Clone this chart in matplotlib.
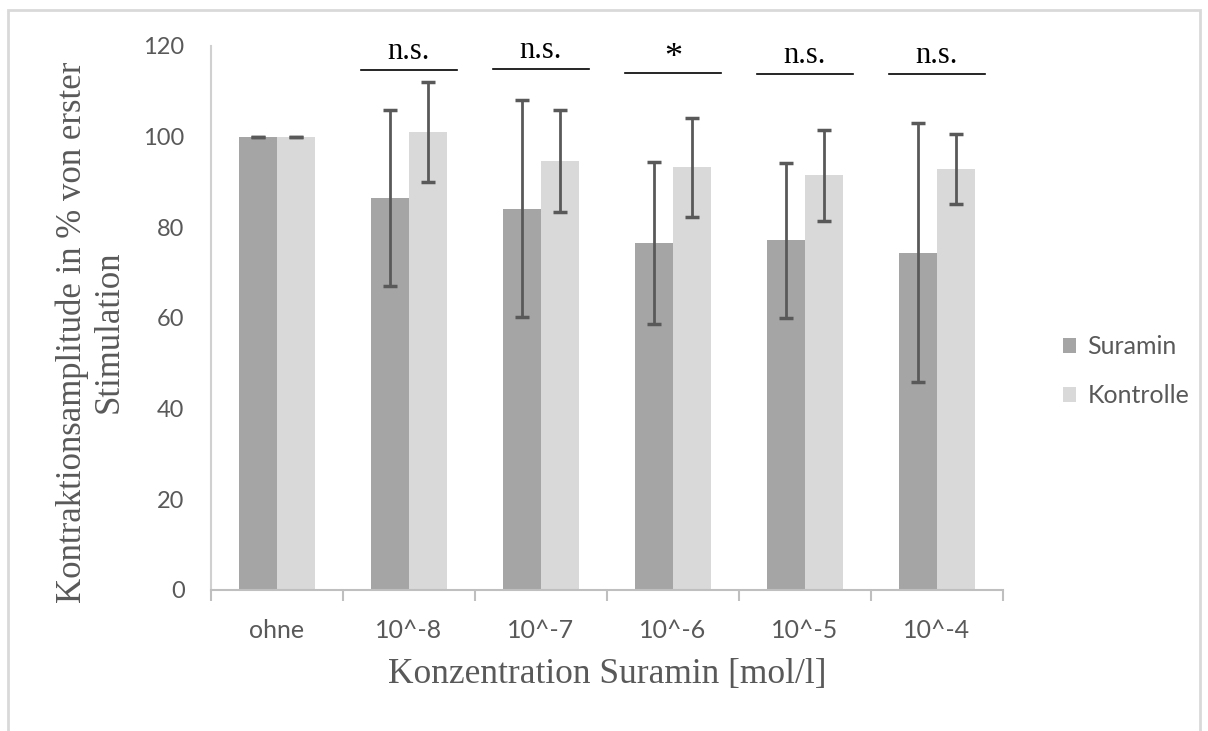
import numpy as np
import matplotlib
matplotlib.use('Agg')
from matplotlib import pyplot as plt
from matplotlib.patches import Rectangle

# Daten
categories = ['ohne', '10^-8', '10^-7', '10^-6', '10^-5', '10^-4']
suramin = [100.0, 86.5, 84.1, 76.5, 77.2, 74.4]
suramin_err = [0.0, 19.4, 23.9, 17.9, 17.1, 28.6]
kontrolle = [100.0, 101.0, 94.6, 93.2, 91.5, 92.9]
kontrolle_err = [0.0, 11.1, 11.3, 10.9, 10.0, 7.7]

# Signifikanz über den Konzentrationen 10^-8 .. 10^-4
sig_pos = [1, 2, 3, 4, 5]
sig_labels = ['n.s.', 'n.s.', '*', 'n.s.', 'n.s.']
sig_line_y = [114.8, 114.9, 114.1, 113.8, 113.8]

col_sur = '#a5a5a5'
col_kon = '#d9d9d9'
col_err = '#595959'
col_txt = '#595959'
sans = ['Lato', 'DejaVu Sans']
serif = ['Liberation Serif', 'DejaVu Serif']

fig = plt.figure(figsize=(12.08, 7.31), dpi=100)
ax = fig.add_axes([211 / 1208, 1 - 590 / 731, 792 / 1208, 544 / 731])

x = np.arange(len(categories))
w = 0.286

ax.bar(x - w / 2, suramin, w, color=col_sur, label='Suramin', zorder=2)
ax.bar(x + w / 2, kontrolle, w, color=col_kon, label='Kontrolle', zorder=2)
ax.errorbar(x - w / 2, suramin, yerr=suramin_err, fmt='none', ecolor=col_err,
            elinewidth=2, capsize=5, capthick=2.5, zorder=3)
ax.errorbar(x + w / 2, kontrolle, yerr=kontrolle_err, fmt='none', ecolor=col_err,
            elinewidth=2, capsize=5, capthick=2.5, zorder=3)

for p, lab, ly in zip(sig_pos, sig_labels, sig_line_y):
    ax.plot([p - 0.36, p + 0.36], [ly, ly], color='black', lw=1.2, clip_on=False)
    if lab == '*':
        ax.text(p, ly + 1.3, lab, ha='center', va='baseline', fontsize=26,
                family=serif, color='black')
    else:
        ax.text(p, ly + 2.4, lab, ha='center', va='baseline', fontsize=22,
                family=serif, color='black')

ax.set_xlim(-0.5, len(categories) - 0.5)
ax.set_ylim(0, 120)
ax.set_yticks(np.arange(0, 121, 20))

ax.set_xticks(x)
ax.set_xticklabels(categories)
ax.set_xticks(np.arange(-0.5, len(categories)), minor=True)
ax.tick_params(axis='x', which='major', length=0, pad=21, labelsize=18,
               labelcolor=col_txt)
ax.tick_params(axis='x', which='minor', length=8, width=1.5, color='#bfbfbf',
               direction='out')
ax.tick_params(axis='y', length=0, pad=19, labelsize=17, labelcolor=col_txt)
for lab in ax.get_xticklabels() + ax.get_yticklabels():
    lab.set_family(sans)

for s in ['top', 'right']:
    ax.spines[s].set_visible(False)
ax.spines['left'].set_color('#d0d0d0')
ax.spines['left'].set_linewidth(1.5)
ax.spines['bottom'].set_color('#bfbfbf')
ax.spines['bottom'].set_linewidth(1.5)

ax.set_xlabel('Konzentration Suramin [mol/l]', fontsize=25.5, family=serif,
              color=col_txt, va='center')
ax.xaxis.set_label_coords(0.5, (590 - 674) / 544)
fig.text(91 / 1208, 1 - 332 / 731,
         'Kontraktionsamplitude in % von erster\nStimulation',
         rotation=90, ha='center', va='center', multialignment='center',
         fontsize=25, family=serif, color=col_txt, linespacing=1.15)

leg = ax.legend(loc='center left', bbox_to_anchor=(1040 / 1208, 1 - 371 / 731),
                bbox_transform=fig.transFigure, frameon=False,
                handlelength=0.55, handleheight=0.55, handletextpad=0.45,
                labelspacing=1.05, prop={'family': sans, 'size': 18})
for t in leg.get_texts():
    t.set_color(col_txt)

# Rahmen um das Diagramm
fig.patches.append(Rectangle((8 / 1208, -0.05), 1192 / 1208, 1.05 - 10 / 731,
                             transform=fig.transFigure, fill=False,
                             edgecolor='#d9d9d9', lw=2))

fig.savefig('out.png', dpi=100)
